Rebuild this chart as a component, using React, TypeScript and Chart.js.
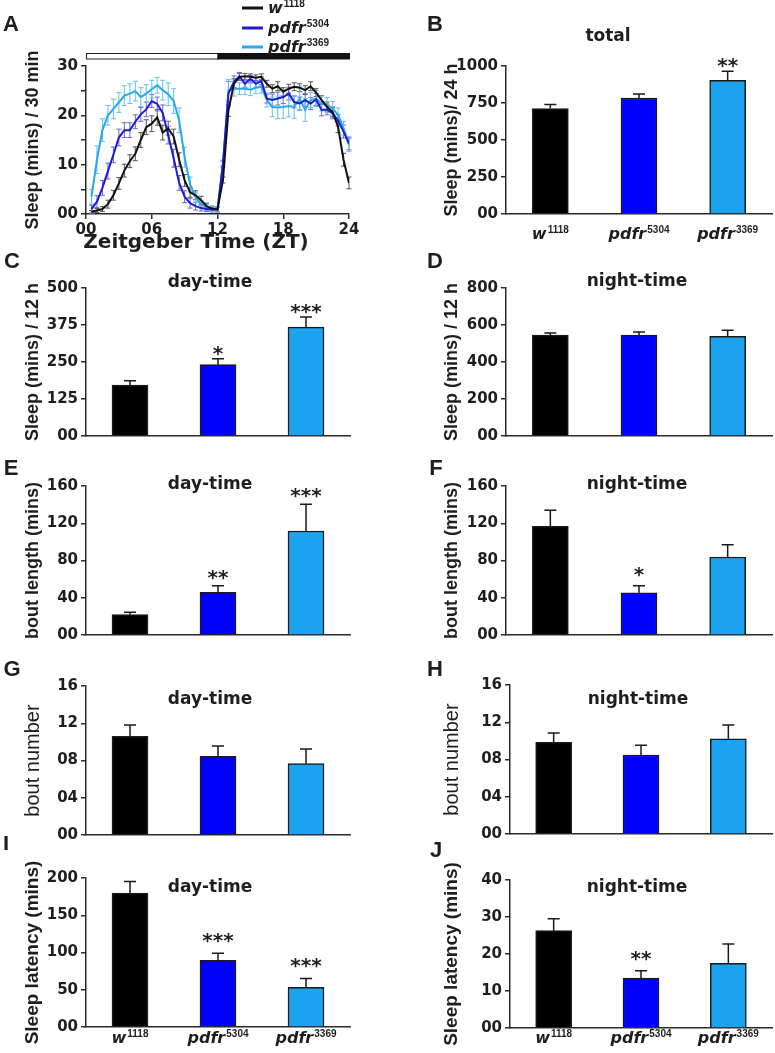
import React, { useEffect, useRef } from 'react';
import { Chart, registerables } from 'chart.js';

Chart.register(...registerables);

// ---------------- DATA ----------------
const GENOTYPE_NAMES = ['w', 'pdfr', 'pdfr'];
const GENOTYPE_ALLELES = ['1118', '5304', '3369'];
const GENOTYPE_LABELS = ['w1118', 'pdfr5304', 'pdfr3369'];

// Panel A: sleep per 30-min bin across Zeitgeber time
const ZT_HOURS = [0.5, 1, 1.5, 2, 2.5, 3, 3.5, 4, 4.5, 5, 5.5, 6, 6.5, 7, 7.5, 8, 8.5, 9, 9.5, 10, 10.5, 11, 11.5, 12,
  12.5, 13, 13.5, 14, 14.5, 15, 15.5, 16, 16.5, 17, 17.5, 18, 18.5, 19, 19.5, 20, 20.5, 21, 21.5, 22, 22.5, 23, 23.5, 24];
const ZT_TICK_LABELS = ['00', '06', '12', '18', '24'];
const PROFILE_Y_TICK_LABELS = ['00', '', '10', '', '20', '', '30'];

const PROFILE_W1118 = [0.4, 0.7, 1.0, 2.0, 3.8, 6.2, 8.8, 10.7, 12.2, 15.0, 17.6, 18.3, 19.6, 16.5, 17.4, 15.7, 11.0, 6.8, 4.4, 3.8, 2.8, 1.6, 1.1, 0.9,
  6.9, 21.0, 26.4, 27.8, 27.9, 27.8, 27.6, 27.8, 26.4, 25.4, 25.9, 24.8, 25.4, 25.8, 25.6, 25.1, 25.9, 24.6, 23.1, 21.7, 20.7, 17.7, 11.0, 6.3];
const PROFILE_W1118_SEM = [0.3, 0.4, 0.5, 0.8, 1.0, 1.2, 1.3, 1.3, 1.4, 1.5, 1.5, 1.6, 1.6, 1.5, 1.4, 1.5, 1.4, 1.2, 1.0, 0.9, 0.8, 0.6, 0.5, 0.5,
  0.6, 1.2, 1.0, 0.7, 0.6, 0.6, 0.6, 0.6, 0.7, 0.8, 0.9, 0.8, 0.9, 0.8, 0.8, 0.9, 0.9, 0.8, 0.9, 1.0, 1.0, 1.2, 1.3, 1.2];

const PROFILE_PDFR5304 = [1.0, 2.5, 5.3, 8.7, 12.0, 15.5, 17.0, 17.0, 18.7, 20.2, 21.2, 22.9, 22.3, 20.5, 16.0, 11.3, 6.3, 3.5, 2.2, 1.6, 1.2, 1.0, 0.9, 0.9,
  10.3, 24.4, 26.8, 27.9, 26.4, 27.4, 26.4, 27.0, 23.4, 23.1, 23.4, 23.7, 24.4, 22.7, 22.4, 23.1, 22.4, 23.2, 21.1, 21.2, 20.4, 19.0, 16.7, 14.3];
const PROFILE_PDFR5304_SEM = [0.8, 1.2, 1.5, 1.6, 1.6, 1.7, 1.5, 1.5, 1.4, 1.4, 1.5, 1.3, 1.4, 1.6, 1.8, 1.8, 1.5, 1.2, 1.0, 0.8, 0.6, 0.5, 0.5, 0.5,
  0.6, 2.5, 1.2, 0.8, 0.7, 0.7, 0.7, 0.8, 0.9, 1.2, 1.3, 1.3, 1.3, 1.2, 1.3, 1.3, 1.2, 1.2, 1.2, 1.1, 1.1, 1.2, 1.3, 1.3];

const PROFILE_PDFR3369 = [3.5, 11.0, 17.0, 20.0, 21.3, 22.6, 24.0, 24.4, 24.9, 23.7, 24.4, 25.3, 26.1, 25.1, 24.3, 22.9, 19.0, 11.5, 6.0, 3.3, 2.0, 1.3, 1.0, 0.9,
  10.0, 25.1, 25.4, 25.4, 25.4, 25.2, 25.6, 25.8, 23.1, 21.7, 21.6, 21.7, 21.9, 21.7, 23.4, 21.1, 23.1, 23.4, 22.4, 22.1, 21.4, 20.1, 17.4, 14.0];
const PROFILE_PDFR3369_SEM = [1.5, 2.8, 2.3, 2.0, 2.0, 2.0, 2.0, 2.0, 2.0, 1.9, 1.8, 1.8, 1.6, 2.0, 2.3, 2.5, 2.5, 2.0, 1.5, 1.0, 0.8, 0.6, 0.5, 0.5,
  0.6, 2.2, 1.5, 1.2, 1.2, 1.2, 1.2, 1.3, 1.4, 2.0, 2.3, 2.3, 2.2, 2.3, 2.4, 2.3, 1.5, 1.6, 1.5, 1.5, 1.4, 1.4, 1.4, 1.3];

// Panel B-J: bar summaries (mean, SEM, significance)
const TOTAL_SLEEP_MEAN = [713, 784, 904];
const TOTAL_SLEEP_SEM = [27, 27, 60];
const TOTAL_SLEEP_SIG = ['', '', '**'];
const TOTAL_SLEEP_TICKS = ['00', '250', '500', '750', '1000'];

const DAY_SLEEP_MEAN = [172, 241, 368];
const DAY_SLEEP_SEM = [15, 20, 34];
const DAY_SLEEP_SIG = ['', '*', '***'];
const DAY_SLEEP_TICKS = ['00', '125', '250', '375', '500'];

const NIGHT_SLEEP_MEAN = [545, 545, 539];
const NIGHT_SLEEP_SEM = [12, 17, 32];
const NIGHT_SLEEP_SIG = ['', '', ''];
const NIGHT_SLEEP_TICKS = ['00', '200', '400', '600', '800'];

const DAY_BOUT_LENGTH_MEAN = [21.8, 45.8, 111.7];
const DAY_BOUT_LENGTH_SEM = [2.6, 7.2, 28.6];
const DAY_BOUT_LENGTH_SIG = ['', '**', '***'];

const NIGHT_BOUT_LENGTH_MEAN = [116.7, 45.4, 83.8];
const NIGHT_BOUT_LENGTH_SEM = [17.2, 7.6, 13.2];
const NIGHT_BOUT_LENGTH_SIG = ['', '*', ''];
const BOUT_LENGTH_TICKS = ['00', '40', '80', '120', '160'];

const DAY_BOUT_NUMBER_MEAN = [10.6, 8.45, 7.66];
const DAY_BOUT_NUMBER_SEM = [1.2, 1.1, 1.57];
const NIGHT_BOUT_NUMBER_MEAN = [9.85, 8.48, 10.23];
const NIGHT_BOUT_NUMBER_SEM = [1.0, 1.04, 1.47];
const NO_SIG = ['', '', ''];
const BOUT_NUMBER_TICKS = ['00', '04', '08', '12', '16'];

const DAY_LATENCY_MEAN = [179.8, 89.5, 53.1];
const DAY_LATENCY_SEM = [15.6, 9.4, 12.1];
const DAY_LATENCY_SIG = ['', '***', '***'];
const DAY_LATENCY_TICKS = ['00', '50', '100', '150', '200'];

const NIGHT_LATENCY_MEAN = [26.3, 13.5, 17.5];
const NIGHT_LATENCY_SEM = [3.2, 1.95, 5.2];
const NIGHT_LATENCY_SIG = ['', '**', ''];
const NIGHT_LATENCY_TICKS = ['00', '10', '20', '30', '40'];

// ---------------- STYLE ----------------
const BAR_COLORS = ['#000000', '#0000ff', '#1ba3f0'];
const LINE_COLORS = ['#111111', '#1c1cd2', '#2ba8ea'];
const ERR_COLORS = ['#555555', '#6a62e2', '#62c0ee'];
const AXIS_COLOR = '#2a2a2a';
const TEXT_COLOR = '#1e1e1e';
const TICK_FONT = { family: "'DejaVu Sans'", size: 15, weight: 'bold' as const };
const TITLE_FONT = "bold 17px 'DejaVu Sans'";
const LETTER_FONT = "bold 22px 'Liberation Sans'";
const GENO_FONT = "italic bold 16px 'DejaVu Sans'";
const SUP_FONT = "bold 10px 'Liberation Sans'";
const STAR_SIZE = 20;

type Box = { x: number; y: number; w: number; h: number };

function drawGenotype(ctx: CanvasRenderingContext2D, cx: number, baseline: number, i: number) {
  ctx.save();
  ctx.fillStyle = TEXT_COLOR;
  ctx.textBaseline = 'alphabetic';
  ctx.textAlign = 'left';
  ctx.font = GENO_FONT;
  const mw = ctx.measureText(GENOTYPE_NAMES[i]).width;
  ctx.font = SUP_FONT;
  const sw = ctx.measureText(GENOTYPE_ALLELES[i]).width;
  const x0 = cx - (mw + sw + 1) / 2;
  ctx.font = GENO_FONT;
  ctx.fillText(GENOTYPE_NAMES[i], x0, baseline);
  ctx.font = SUP_FONT;
  ctx.fillText(GENOTYPE_ALLELES[i], x0 + mw + 1, baseline - 6);
  ctx.restore();
}

function drawRotated(ctx: CanvasRenderingContext2D, text: string, x: number, y: number, font: string) {
  ctx.save();
  ctx.translate(x, y);
  ctx.rotate(-Math.PI / 2);
  ctx.font = font;
  ctx.fillStyle = TEXT_COLOR;
  ctx.textAlign = 'center';
  ctx.textBaseline = 'middle';
  ctx.fillText(text, 0, 0);
  ctx.restore();
}

function drawText(ctx: CanvasRenderingContext2D, text: string, x: number, y: number, font: string) {
  ctx.save();
  ctx.font = font;
  ctx.fillStyle = TEXT_COLOR;
  ctx.textAlign = 'center';
  ctx.textBaseline = 'middle';
  ctx.fillText(text, x, y);
  ctx.restore();
}

// ---------------- BAR PANELS ----------------
type BarCfg = {
  id: string;
  letter: string; letterPos: [number, number];
  title: string; titlePos: [number, number];
  ylabel: string; ylabelFont: string; ylabelX: number;
  box: Box; axisX: number; top: number; bottom: number; right: number;
  max: number; step: number; ticks: string[];
  mean: number[]; sem: number[]; sig: string[]; starGap: number;
  xLabelBaseline?: number;
};

const LEFT = { x: 0, w: 380 };
const RIGHT = { x: 380, w: 395 };
const YLAB_BOLD = "bold 18px 'Liberation Sans'";

const BAR_PANELS: BarCfg[] = [
  {
    id: 'B', letter: 'B', letterPos: [435, 25], title: 'total', titlePos: [608, 37],
    ylabel: 'Sleep (mins)/ 24 h', ylabelFont: YLAB_BOLD, ylabelX: 452,
    box: { x: RIGHT.x, y: 0, w: RIGHT.w, h: 250 }, axisX: 506, top: 66, bottom: 214, right: 772,
    max: 1000, step: 250, ticks: TOTAL_SLEEP_TICKS,
    mean: TOTAL_SLEEP_MEAN, sem: TOTAL_SLEEP_SEM, sig: TOTAL_SLEEP_SIG, starGap: 11, xLabelBaseline: 239,
  },
  {
    id: 'C', letter: 'C', letterPos: [12, 262], title: 'day-time', titlePos: [210, 283],
    ylabel: 'Sleep (mins) / 12 h', ylabelFont: YLAB_BOLD, ylabelX: 33,
    box: { x: LEFT.x, y: 245, w: LEFT.w, h: 205 }, axisX: 86, top: 288, bottom: 436, right: 350,
    max: 500, step: 125, ticks: DAY_SLEEP_TICKS,
    mean: DAY_SLEEP_MEAN, sem: DAY_SLEEP_SEM, sig: DAY_SLEEP_SIG, starGap: 11,
  },
  {
    id: 'D', letter: 'D', letterPos: [435, 262], title: 'night-time', titlePos: [637, 282],
    ylabel: 'Sleep (mins) / 12 h', ylabelFont: YLAB_BOLD, ylabelX: 452,
    box: { x: RIGHT.x, y: 245, w: RIGHT.w, h: 205 }, axisX: 506, top: 288, bottom: 436, right: 772,
    max: 800, step: 200, ticks: NIGHT_SLEEP_TICKS,
    mean: NIGHT_SLEEP_MEAN, sem: NIGHT_SLEEP_SEM, sig: NIGHT_SLEEP_SIG, starGap: 11,
  },
  {
    id: 'E', letter: 'E', letterPos: [11, 469], title: 'day-time', titlePos: [210, 485],
    ylabel: 'bout length (mins)', ylabelFont: YLAB_BOLD, ylabelX: 33,
    box: { x: LEFT.x, y: 450, w: LEFT.w, h: 200 }, axisX: 86, top: 486, bottom: 635, right: 350,
    max: 160, step: 40, ticks: BOUT_LENGTH_TICKS,
    mean: DAY_BOUT_LENGTH_MEAN, sem: DAY_BOUT_LENGTH_SEM, sig: DAY_BOUT_LENGTH_SIG, starGap: 14,
  },
  {
    id: 'F', letter: 'F', letterPos: [436, 469], title: 'night-time', titlePos: [637, 485],
    ylabel: 'bout length (mins)', ylabelFont: YLAB_BOLD, ylabelX: 452,
    box: { x: RIGHT.x, y: 450, w: RIGHT.w, h: 200 }, axisX: 506, top: 486, bottom: 635, right: 772,
    max: 160, step: 40, ticks: BOUT_LENGTH_TICKS,
    mean: NIGHT_BOUT_LENGTH_MEAN, sem: NIGHT_BOUT_LENGTH_SEM, sig: NIGHT_BOUT_LENGTH_SIG, starGap: 17,
  },
  {
    id: 'G', letter: 'G', letterPos: [12, 670], title: 'day-time', titlePos: [210, 700],
    ylabel: 'bout number', ylabelFont: "20px 'Liberation Sans'", ylabelX: 33,
    box: { x: LEFT.x, y: 650, w: LEFT.w, h: 200 }, axisX: 86, top: 686, bottom: 835, right: 350,
    max: 16, step: 4, ticks: BOUT_NUMBER_TICKS,
    mean: DAY_BOUT_NUMBER_MEAN, sem: DAY_BOUT_NUMBER_SEM, sig: NO_SIG, starGap: 12,
  },
  {
    id: 'H', letter: 'H', letterPos: [435, 670], title: 'night-time', titlePos: [638, 700],
    ylabel: 'bout number', ylabelFont: "20px 'Liberation Sans'", ylabelX: 452,
    box: { x: RIGHT.x, y: 650, w: RIGHT.w, h: 200 }, axisX: 510, top: 685, bottom: 834, right: 772,
    max: 16, step: 4, ticks: BOUT_NUMBER_TICKS,
    mean: NIGHT_BOUT_NUMBER_MEAN, sem: NIGHT_BOUT_NUMBER_SEM, sig: NO_SIG, starGap: 12,
  },
  {
    id: 'I', letter: 'I', letterPos: [6, 844], title: 'day-time', titlePos: [210, 888],
    ylabel: 'Sleep latency (mins)', ylabelFont: "bold 19px 'Liberation Sans'", ylabelX: 33,
    box: { x: LEFT.x, y: 836, w: LEFT.w, h: 217 }, axisX: 86, top: 878, bottom: 1027, right: 350,
    max: 200, step: 50, ticks: DAY_LATENCY_TICKS,
    mean: DAY_LATENCY_MEAN, sem: DAY_LATENCY_SEM, sig: DAY_LATENCY_SIG, starGap: 18, xLabelBaseline: 1043,
  },
  {
    id: 'J', letter: 'J', letterPos: [436, 851], title: 'night-time', titlePos: [637, 888],
    ylabel: 'Sleep latency (mins)', ylabelFont: "bold 19px 'Liberation Sans'", ylabelX: 452,
    box: { x: RIGHT.x, y: 836, w: RIGHT.w, h: 217 }, axisX: 510, top: 880, bottom: 1028, right: 772,
    max: 40, step: 10, ticks: NIGHT_LATENCY_TICKS,
    mean: NIGHT_LATENCY_MEAN, sem: NIGHT_LATENCY_SEM, sig: NIGHT_LATENCY_SIG, starGap: 18, xLabelBaseline: 1043,
  },
];

function yAxisOptions(max: number, step: number, labels: string[], width: number) {
  return {
    min: 0, max,
    ticks: {
      stepSize: step, autoSkip: false, padding: 3, color: TEXT_COLOR, font: TICK_FONT,
      callback: (_v: any, i: number) => labels[i],
    },
    grid: { display: true, drawOnChartArea: false, drawTicks: true, tickLength: 5, color: AXIS_COLOR, lineWidth: 1.5 },
    border: { display: true, color: AXIS_COLOR, width: 1.5 },
    afterFit: (s: any) => { s.width = width; },
  };
}

function barConfig(cfg: BarCfg): any {
  const ox = cfg.box.x, oy = cfg.box.y;
  const decor = {
    id: 'decor' + cfg.id,
    afterDatasetsDraw(chart: any) {
      const ctx = chart.ctx;
      const ys = chart.scales.y;
      const meta = chart.getDatasetMeta(0);
      ctx.save();
      ctx.strokeStyle = '#1a1a1a';
      ctx.lineWidth = 1.5;
      meta.data.forEach((bar: any, i: number) => {
        const x = bar.x;
        const yTop = ys.getPixelForValue(cfg.mean[i]);
        const yErr = ys.getPixelForValue(cfg.mean[i] + cfg.sem[i]);
        ctx.beginPath();
        ctx.moveTo(x, yTop);
        ctx.lineTo(x, yErr);
        ctx.moveTo(x - 6, yErr);
        ctx.lineTo(x + 6, yErr);
        ctx.stroke();
        if (cfg.sig[i]) {
          ctx.fillStyle = TEXT_COLOR;
          ctx.font = `bold ${STAR_SIZE}px 'DejaVu Sans'`;
          ctx.textAlign = 'center';
          ctx.textBaseline = 'alphabetic';
          const cy = yErr - cfg.starGap;
          ctx.fillText(cfg.sig[i], x, cy + STAR_SIZE * 0.6);
        }
      });
      ctx.restore();
    },
    afterDraw(chart: any) {
      const ctx = chart.ctx;
      drawText(ctx, cfg.letter, cfg.letterPos[0] - ox, cfg.letterPos[1] - oy, LETTER_FONT);
      drawText(ctx, cfg.title, cfg.titlePos[0] - ox, cfg.titlePos[1] - oy, TITLE_FONT);
      drawRotated(ctx, cfg.ylabel, cfg.ylabelX - ox, (cfg.top + cfg.bottom) / 2 - oy, cfg.ylabelFont);
      if (cfg.xLabelBaseline !== undefined) {
        const meta = chart.getDatasetMeta(0);
        meta.data.forEach((bar: any, i: number) => drawGenotype(ctx, bar.x, cfg.xLabelBaseline! - oy, i));
      }
    },
  };
  return {
    type: 'bar',
    data: {
      labels: GENOTYPE_LABELS,
      datasets: [{
        data: cfg.mean,
        backgroundColor: BAR_COLORS,
        borderColor: '#1a1a1a',
        borderWidth: 1.5,
        barThickness: 36,
      }],
    },
    options: {
      responsive: false,
      animation: false,
      events: [],
      layout: {
        autoPadding: false,
        padding: { top: cfg.top - oy, left: 0, right: ox + cfg.box.w - cfg.right, bottom: 0 },
      },
      plugins: { legend: { display: false }, tooltip: { enabled: false }, title: { display: false } },
      scales: {
        x: {
          type: 'category', offset: true,
          grid: { display: false },
          ticks: { display: false },
          border: { display: true, color: AXIS_COLOR, width: 1.5 },
          afterFit: (s: any) => { s.height = oy + cfg.box.h - cfg.bottom; },
        },
        y: yAxisOptions(cfg.max, cfg.step, cfg.ticks, cfg.axisX - ox),
      },
    },
    plugins: [decor],
  };
}

// ---------------- LINE PANEL (A) ----------------
const A_BOX: Box = { x: 0, y: 0, w: 380, h: 255 };
const A_TOP = 66, A_BOTTOM = 214, A_AXIS = 86, A_RIGHT = 349;

function profileConfig(): any {
  const series = [PROFILE_W1118, PROFILE_PDFR5304, PROFILE_PDFR3369];
  const sems = [PROFILE_W1118_SEM, PROFILE_PDFR5304_SEM, PROFILE_PDFR3369_SEM];
  const decor = {
    id: 'decorA',
    beforeDatasetsDraw(chart: any) {
      const ctx = chart.ctx;
      const xs = chart.scales.x, ys = chart.scales.y;
      ctx.save();
      ctx.lineWidth = 1;
      series.forEach((vals, s) => {
        ctx.strokeStyle = ERR_COLORS[s];
        vals.forEach((v, i) => {
          const x = xs.getPixelForValue(ZT_HOURS[i]);
          const y1 = ys.getPixelForValue(v - sems[s][i]);
          const y2 = ys.getPixelForValue(v + sems[s][i]);
          ctx.beginPath();
          ctx.moveTo(x, y1); ctx.lineTo(x, y2);
          ctx.moveTo(x - 2.5, y1); ctx.lineTo(x + 2.5, y1);
          ctx.moveTo(x - 2.5, y2); ctx.lineTo(x + 2.5, y2);
          ctx.stroke();
        });
      });
      ctx.restore();
    },
    afterDraw(chart: any) {
      const ctx = chart.ctx;
      const xs = chart.scales.x;
      // light/dark bar
      const x0 = xs.getPixelForValue(0), x12 = xs.getPixelForValue(12), x24 = xs.getPixelForValue(24);
      ctx.save();
      ctx.fillStyle = '#ffffff';
      ctx.strokeStyle = '#222';
      ctx.lineWidth = 1;
      ctx.fillRect(x0, 53.5, x12 - x0, 5.5);
      ctx.strokeRect(x0 + 0.5, 53.5, x12 - x0, 5.5);
      ctx.fillStyle = '#111';
      ctx.fillRect(x12, 53, x24 - x12 + 1, 6.5);
      // legend
      const lineYs = [8, 28, 47];
      const baseYs = [13, 33, 52];
      series.forEach((_, s) => {
        ctx.strokeStyle = LINE_COLORS[s];
        ctx.lineWidth = 3;
        ctx.beginPath();
        ctx.moveTo(242, lineYs[s]);
        ctx.lineTo(263, lineYs[s]);
        ctx.stroke();
        ctx.font = GENO_FONT;
        ctx.fillStyle = TEXT_COLOR;
        ctx.textAlign = 'left';
        ctx.textBaseline = 'alphabetic';
        const mw = ctx.measureText(GENOTYPE_NAMES[s]).width;
        ctx.fillText(GENOTYPE_NAMES[s], 268, baseYs[s]);
        ctx.font = SUP_FONT;
        ctx.fillText(GENOTYPE_ALLELES[s], 269 + mw, baseYs[s] - 6);
      });
      ctx.restore();
      drawText(ctx, 'A', 11, 25, LETTER_FONT);
      drawText(ctx, 'Zeitgeber Time (ZT)', 196, 243, "bold 20px 'DejaVu Sans'");
      drawRotated(ctx, 'Sleep (mins) / 30 min', 33, (A_TOP + A_BOTTOM) / 2, YLAB_BOLD);
    },
  };
  return {
    type: 'line',
    data: {
      datasets: series.map((vals, s) => ({
        data: vals.map((v, i) => ({ x: ZT_HOURS[i], y: v })),
        borderColor: LINE_COLORS[s],
        borderWidth: 2,
        pointRadius: 0,
        tension: 0,
        fill: false,
      })),
    },
    options: {
      responsive: false,
      animation: false,
      events: [],
      layout: {
        autoPadding: false,
        padding: { top: A_TOP - A_BOX.y, left: 0, right: A_BOX.w - A_RIGHT, bottom: 0 },
      },
      plugins: { legend: { display: false }, tooltip: { enabled: false } },
      scales: {
        x: {
          type: 'linear', min: 0, max: 24,
          ticks: {
            stepSize: 6, autoSkip: false, padding: 2, color: TEXT_COLOR, font: TICK_FONT, maxRotation: 0,
            callback: (_v: any, i: number) => ZT_TICK_LABELS[i],
          },
          grid: { display: true, drawOnChartArea: false, drawTicks: true, tickLength: 5, color: AXIS_COLOR, lineWidth: 1.5 },
          border: { display: true, color: AXIS_COLOR, width: 1.5 },
          afterFit: (s: any) => { s.height = A_BOX.h - A_BOTTOM; },
        },
        y: yAxisOptions(30, 5, PROFILE_Y_TICK_LABELS, A_AXIS - A_BOX.x),
      },
    },
    plugins: [decor],
  };
}

// ---------------- COMPONENTS ----------------
function ChartCanvas({ box, make }: { box: Box; make: () => any }) {
  const ref = useRef<HTMLCanvasElement>(null);
  useEffect(() => {
    if (!ref.current) return;
    const chart = new Chart(ref.current, make());
    return () => chart.destroy();
  }, []);
  return (
    <canvas
      ref={ref}
      width={box.w}
      height={box.h}
      style={{ position: 'absolute', left: box.x, top: box.y, width: box.w, height: box.h }}
    />
  );
}

export default function App() {
  return (
    <div style={{ position: 'absolute', left: 0, top: 0, width: 775, height: 1053, background: '#ffffff', overflow: 'hidden' }}>
      <ChartCanvas box={A_BOX} make={profileConfig} />
      {BAR_PANELS.map((cfg) => (
        <ChartCanvas key={cfg.id} box={cfg.box} make={() => barConfig(cfg)} />
      ))}
    </div>
  );
}
